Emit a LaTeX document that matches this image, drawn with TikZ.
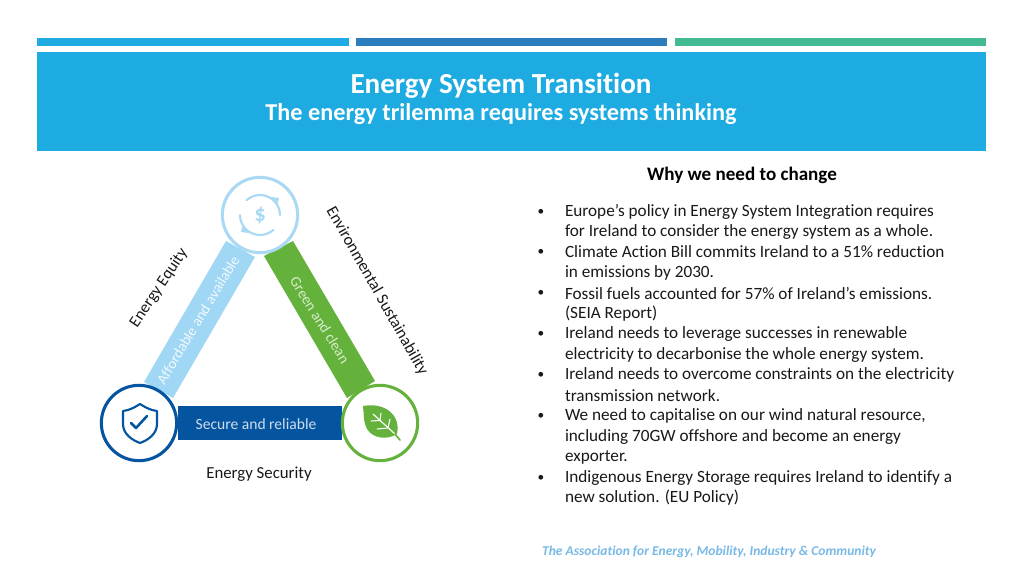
\documentclass[tikz,border=0pt]{standalone}
\usepackage{fontspec}
\setmainfont{Carlito}[Ligatures=NoCommon]
\definecolor{hdr}{RGB}{29,171,226}
\definecolor{barb}{RGB}{44,125,190}
\definecolor{barg}{RGB}{67,186,147}
\definecolor{lblue}{RGB}{160,215,244}
\definecolor{ringl}{RGB}{170,218,243}
\definecolor{dblue}{RGB}{5,84,160}
\definecolor{green1}{RGB}{100,178,60}
\definecolor{foot}{RGB}{120,185,230}
\tikzset{
 every node/.style={inner sep=0pt,outer sep=0pt},
 body/.style={anchor=west,font=\fontsize{12.9pt}{14pt}\selectfont,text=black!90},
 bul/.style={anchor=center,font=\fontsize{10pt}{14pt}\selectfont,text=black!90},
 side/.style={font=\fontsize{12.6pt}{14pt}\selectfont,text=black!90},
 band/.style={font=\fontsize{11.2pt}{12pt}\selectfont},
 ringnode/.style={circle,minimum size=56.5pt,line width=2.3pt,fill=white},
 icon/.style={line width=1.6pt,line cap=round,line join=round},
}
\begin{document}
\begin{tikzpicture}[x=0.75pt,y=-0.75pt]
\useasboundingbox (0,0) rectangle (1024,576);
\fill[white] (0,0) rectangle (1024,576);
\fill[hdr] (37,38) rectangle (349,46);
\fill[barb] (356,38) rectangle (667,46);
\fill[barg] (675,38) rectangle (986,46);
\fill[hdr] (37,52) rectangle (986,151);
\node[text=white,font=\fontsize{21.8pt}{24pt}\selectfont\bfseries] (title) at (501,86) {Energy System Transition};
\node[text=white,font=\fontsize{18.2pt}{20pt}\selectfont\bfseries] (subtitle) at (501,114) {The energy trilemma requires systems thinking};
\node[font=\fontsize{14.3pt}{16pt}\selectfont\bfseries,text=black] (why) at (742,175) {Why we need to change};
% bands
\fill[lblue] (226,241) -- (255,257) -- (173,398) -- (144,382) -- cycle;
\fill[green1] (293,241) -- (264,256) -- (347,398) -- (375,381) -- cycle;
\fill[dblue] (178,406) -- (342,406) -- (342,440) -- (178,440) -- cycle;
\node[band,text=white!85!lblue,rotate=59] (aff) at (198,320) {Affordable and available};
\node[band,text=white!75!green1,rotate=-58] (gc) at (320,320) {Green and clean};
\node[band,text=white!80!dblue,font=\fontsize{11.7pt}{12pt}\selectfont] (sr) at (256,424) {Secure and reliable};
% circles
\node[ringnode,draw=ringl] (top) at (260,215) {};
\node[ringnode,draw=dblue] (lft) at (139,423) {};
\node[ringnode,draw=green1] (rgt) at (380,423) {};
% dollar icon
\draw[icon,draw=ringl] (240,215) arc (180:48:20);
\draw[icon,draw=ringl] (280,215) arc (0:-132:20);
\fill[ringl] (271,197) -- (279,198) -- (277,206) -- cycle;
\fill[ringl] (249,233) -- (241,232) -- (243,224) -- cycle;
\node[text=ringl,font=\fontsize{17pt}{20pt}\selectfont\bfseries] (dollar) at (260,215) {\$};
% shield icon
\draw[icon,draw=dblue] (140,404) .. controls (132,409) and (129,410) .. (123,411) -- (123,424) .. controls (123,434) and (132,440) .. (140,443) .. controls (148,440) and (157,434) .. (157,424) -- (157,411) .. controls (151,410) and (148,409) .. (140,404) -- cycle;
\draw[icon,draw=dblue,line width=1.9pt] (131,423) -- (136,428) -- (147,416);
% leaf icon
\fill[green1] (363,406) .. controls (385,402) and (401,415) .. (397,434) .. controls (388,440) and (373,439) .. (367,429) .. controls (363,421) and (364,413) .. (363,406) -- cycle;
\draw[white,line width=0.9pt] (373,414) -- (395,434);
\draw[white,line width=0.8pt] (380,420.5) -- (381,413) (380,420.5) -- (371,421) (388,428) -- (390,419) (388,428) -- (377,429);
\draw[green1,line width=1.2pt,line cap=round] (395,434) -- (400,440);
% side labels
\node[side,rotate=56,font=\fontsize{12.3pt}{14pt}\selectfont] (eq) at (159,288) {Energy Equity};
\node[side,rotate=-60.5,font=\fontsize{12.4pt}{14pt}\selectfont] (env) at (377,291) {Environmental Sustainability};
\node[side] (sec) at (259,474) {Energy Security};
% list
\foreach \yy in {212,252,293,334,375,416,478}{\node[bul] at (541,\yy) {•};}
\node[body] (l1) at (565,212) {Europe’s policy in Energy System Integration requires};
\node[body] (l2) at (565,232) {for Ireland to consider the energy system as a whole.};
\node[body] (l3) at (565,252) {Climate Action Bill commits Ireland to a 51\% reduction};
\node[body] (l4) at (565,273) {in emissions by 2030.};
\node[body] (l5) at (565,293) {Fossil fuels accounted for 57\% of Ireland’s emissions.};
\node[body] (l6) at (565,314) {(SEIA Report)};
\node[body] (l7) at (565,334) {Ireland needs to leverage successes in renewable};
\node[body] (l8) at (565,355) {electricity to decarbonise the whole energy system.};
\node[body] (l9) at (565,375) {Ireland needs to overcome constraints on the electricity};
\node[body] (l10) at (565,396) {transmission network.};
\node[body] (l11) at (565,416) {We need to capitalise on our wind natural resource,};
\node[body] (l12) at (565,437) {including 70GW offshore and become an energy};
\node[body] (l13) at (565,457) {exporter.};
\node[body] (l14) at (565,478) {Indigenous Energy Storage requires Ireland to identify a};
\node[body] (l15) at (565,498) {new solution.  (EU Policy)};
\node[text=foot,font=\fontsize{10.15pt}{12pt}\selectfont\bfseries\itshape] (foot) at (709,552) {The Association for Energy, Mobility, Industry \& Community};
\end{tikzpicture}
\end{document}
